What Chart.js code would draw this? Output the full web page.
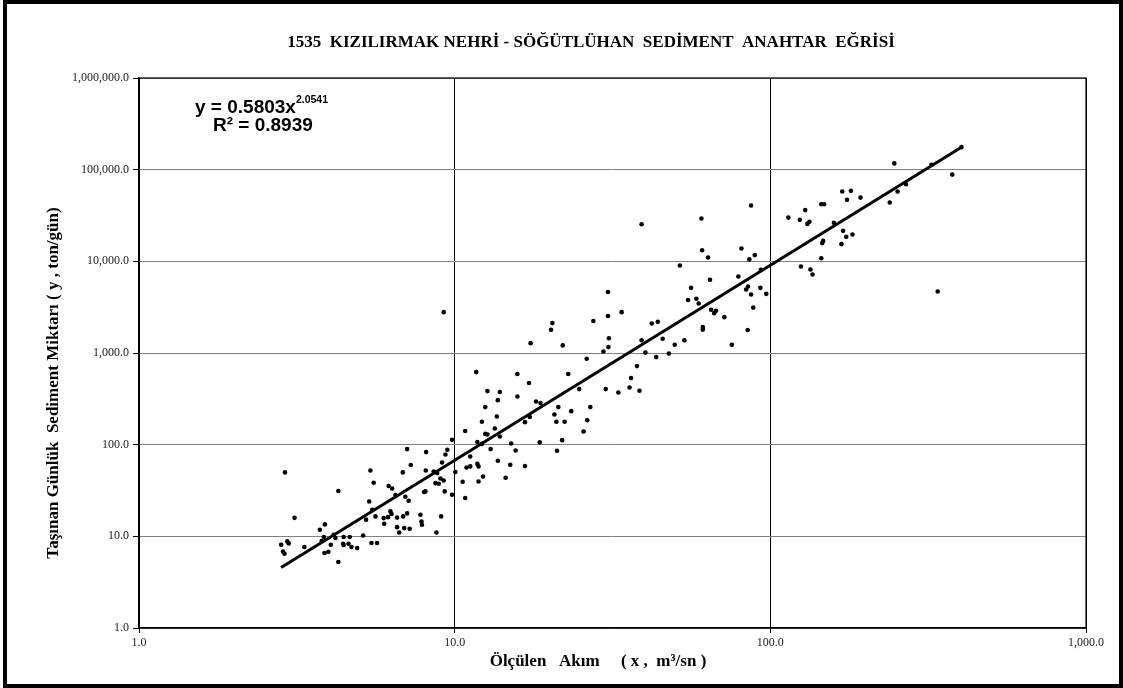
<!DOCTYPE html>
<html>
<head>
<meta charset="utf-8">
<script src="https://cdn.jsdelivr.net/npm/chart.js@4"></script>
<style>
  body { margin: 0; background: #fff; }
  #wrap { width: 1123px; height: 688px; position: relative; }
</style>
</head>
<body>
<div id="wrap"><canvas id="sedimentChart"></canvas></div>
<script>
const discharge = [
  2.90, 3.11, 4.28, 5.41, 5.54, 7.07, 7.26, 6.85, 6.18, 6.34, 6.49, 6.98, 7.15, 5.36, 5.48, 5.24, 5.61, 6.26, 6.31, 5.96,
  6.15, 5.98, 6.57, 6.87, 7.07, 6.57, 6.67, 6.92, 7.20, 3.74, 3.88, 3.85, 3.79, 4.14, 4.19, 4.45, 4.65, 4.05, 4.43, 4.45,
  4.61, 4.71, 4.91, 5.13, 5.45, 5.68, 3.87, 3.98, 4.28, 3.34, 2.82, 2.95, 2.98, 2.86, 2.89,
  8.12, 8.58, 8.80, 9.12, 9.35, 9.48, 10.05, 8.08, 8.00, 8.69, 8.90, 9.01, 9.23, 9.30, 9.81, 10.6, 10.8, 10.9, 11.2, 11.2,
  11.9, 7.79, 7.85, 7.88, 9.06, 8.75, 11.8, 9.81, 8.10,
  20.4, 20.2, 27.5, 17.4, 22.0, 30.8, 30.7, 29.6, 11.7, 15.8, 17.2, 26.2, 22.9, 24.8, 30.1, 33.0, 12.7, 13.9, 15.8, 13.7,
  18.1, 18.7, 12.5, 13.6, 12.2, 13.4, 12.5, 12.7, 10.8, 13.9, 16.7, 17.3, 21.3, 20.7, 21.0, 22.3, 23.4, 26.9, 26.3, 25.6,
  21.9, 21.1, 18.6, 15.1, 15.6, 16.7, 15.0, 14.5, 13.7, 12.3, 13.0, 12.2, 11.9, 11.8, 9.23,
  39.1, 51.7, 56.1, 54.9, 58.3, 59.3, 30.6, 30.6, 33.8, 42.1, 44.0, 39.1, 45.6, 53.4, 49.8, 40.2, 43.5, 47.7, 37.8, 36.2,
  35.8, 38.5,
  64.9, 66.4, 67.3, 71.5, 88.3, 84.8, 75.5, 61.1, 61.1,
  247, 324, 253, 269, 239, 169, 180, 175, 193, 145, 148, 129, 124, 131, 133, 114, 159, 170, 174, 182,
  168, 147, 146, 145, 125, 134, 136, 339, 86.9, 60.5, 60.8, 63.5, 81.0, 89.3, 85.8, 93.3, 79.2, 64.4, 83.8, 85.0,
  86.9, 93.0, 97.1,
  403, 377
];
const sediment = [
  49.8, 15.9, 31.2, 52.3, 38.4, 89.5, 59.9, 49.8, 35.4, 33.3, 28.2, 27.0, 24.4, 24.0, 19.5, 15.2, 16.5, 18.7, 17.5, 15.8,
  16.2, 13.7, 16.0, 16.5, 17.8, 12.6, 11.0, 12.3, 12.1, 11.8, 13.5, 9.83, 8.89, 10.4, 9.58, 9.83, 9.83, 8.10, 8.30, 8.04,
  8.30, 7.64, 7.45, 10.2, 8.45, 8.45, 6.58, 6.79, 5.24, 7.64, 8.10, 8.80, 8.37, 6.84, 6.46,
  83.0, 51.0, 49.0, 64.0, 78.2, 88.0, 50.3, 30.9, 30.4, 38.1, 37.5, 42.8, 40.7, 30.9, 28.4, 39.4, 26.2, 56.4, 57.9, 74.3,
  39.7, 17.2, 14.5, 13.4, 16.5, 11.0, 107, 113, 52.3,
  2120, 1790, 2230, 1280, 1210, 1450, 1160, 1040, 619, 589, 470, 865, 589, 404, 404, 371, 384, 375, 335, 306,
  296, 284, 257, 203, 178, 150, 131, 129, 141, 123, 176, 200, 257, 213, 178, 178, 232, 257, 185, 139,
  112, 85.8, 106, 103, 86.4, 58.4, 60.4, 43.6, 66.7, 45.0, 89.5, 102, 57.9, 61.9, 2790,
  25400, 9000, 5140, 3780, 3900, 3470, 4620, 2530, 2790, 2100, 2190, 1380, 1430, 1380, 1230, 1010, 902, 988, 720, 532,
  421, 387,
  2960, 2720, 2890, 2460, 3130, 1780, 1230, 1920, 1800,
  117000, 113000, 57700, 69500, 43800, 57700, 58700, 46900, 49600, 42000, 42000, 36200, 28400, 25600, 27000, 30000, 26300, 21500, 18500, 19600,
  15400, 16700, 15800, 10800, 8780, 8140, 7180, 4690, 40600, 29300, 13200, 11000, 13800, 11700, 10500, 8080, 6830, 6290, 4930, 5310,
  4350, 5140, 4420,
  176000, 88400
];

// power trend line y = 0.5803x^2.0541, end points as drawn
const trendDischarge = [2.82, 403];
const trendSediment = [4.58, 176000];

const xTicks = [1, 10, 100, 1000];
const yTicks = [1, 10, 100, 1000, 10000, 100000, 1000000];

const fmt = (v) => Number(v).toLocaleString("en-US", { minimumFractionDigits: 1, maximumFractionDigits: 1 });

const serif = "'Liberation Serif', 'Times New Roman', serif";
const sans = "'Liberation Sans', Arial, sans-serif";

const decor = {
  id: "decor",
  beforeDraw(chart) {
    const ctx = chart.ctx;
    ctx.save();
    ctx.fillStyle = "#fff";
    ctx.fillRect(0, 0, chart.width, chart.height);
    ctx.restore();
  },
  afterDraw(chart) {
    const ctx = chart.ctx;
    const a = chart.chartArea;
    ctx.save();
    // plot frame
    ctx.strokeStyle = "#000";
    ctx.lineWidth = 1.2;
    ctx.strokeRect(a.left, a.top, a.right - a.left, a.bottom - a.top);
    // outer frame
    ctx.lineWidth = 4;
    ctx.strokeRect(5, 2, 1116, 684);

    ctx.fillStyle = "#000";
    ctx.textBaseline = "middle";
    ctx.textAlign = "center";
    ctx.font = "bold 17px " + serif;
    ctx.fillText("1535  KIZILIRMAK NEHRİ - SÖĞÜTLÜHAN  SEDİMENT  ANAHTAR  EĞRİSİ", 591, 43);
    ctx.fillText("Ölçülen   Akım     ( x ,  m³/sn )", 598, 662);

    ctx.save();
    ctx.translate(54, 383);
    ctx.rotate(-Math.PI / 2);
    ctx.fillText("Taşınan Günlük  Sediment Miktarı ( y , ton/gün)", 0, 0);
    ctx.restore();

    // regression label
    ctx.textAlign = "left";
    ctx.textBaseline = "alphabetic";
    ctx.font = "bold 19px " + sans;
    const eq = "y = 0.5803x";
    ctx.fillText(eq, 195, 113);
    const w = ctx.measureText(eq).width;
    ctx.font = "bold 10.5px " + sans;
    ctx.fillText("2.0541", 195 + w, 103);
    ctx.font = "bold 19px " + sans;
    ctx.fillText("R² = 0.8939", 213, 131);
    ctx.restore();
  }
};

new Chart(document.getElementById("sedimentChart"), {
  type: "scatter",
  data: {
    datasets: [
      {
        label: "Ölçüm",
        data: discharge.map((q, i) => ({ x: q, y: sediment[i] })),
        backgroundColor: "#000",
        borderColor: "#000",
        borderWidth: 0,
        pointRadius: 2.3,
      },
      {
        label: "Trend",
        data: trendDischarge.map((q, i) => ({ x: q, y: trendSediment[i] })),
        showLine: true,
        borderColor: "#000",
        borderWidth: 3,
        pointRadius: 0,
        fill: false,
      },
    ],
  },
  options: {
    responsive: true,
    maintainAspectRatio: false,
    animation: false,
    layout: { padding: { top: 78, right: 37, left: 0, bottom: 0 } },
    plugins: {
      legend: { display: false },
      tooltip: { enabled: false },
    },
    scales: {
      x: {
        type: "logarithmic",
        min: 1,
        max: 1000,
        afterBuildTicks: (s) => { s.ticks = xTicks.map((v) => ({ value: v })); },
        afterFit: (s) => { s.height = 60; },
        grid: { color: "#000", lineWidth: 1, tickLength: 5, tickColor: "#000" },
        border: { color: "#000", width: 1.2 },
        ticks: {
          autoSkip: false,
          maxRotation: 0,
          padding: 3,
          color: "#222",
          font: { family: serif, size: 12 },
          callback: (v) => fmt(v),
        },
      },
      y: {
        type: "logarithmic",
        min: 1,
        max: 1000000,
        afterBuildTicks: (s) => { s.ticks = yTicks.map((v) => ({ value: v })); },
        afterFit: (s) => { s.width = 139; },
        grid: { color: "#808080", lineWidth: 1, tickLength: 6, tickColor: "#000" },
        border: { color: "#000", width: 1.2 },
        ticks: {
          autoSkip: false,
          padding: 4,
          color: "#222",
          font: { family: serif, size: 12 },
          callback: (v) => fmt(v),
        },
      },
    },
  },
  plugins: [decor],
});
</script>
</body>
</html>
